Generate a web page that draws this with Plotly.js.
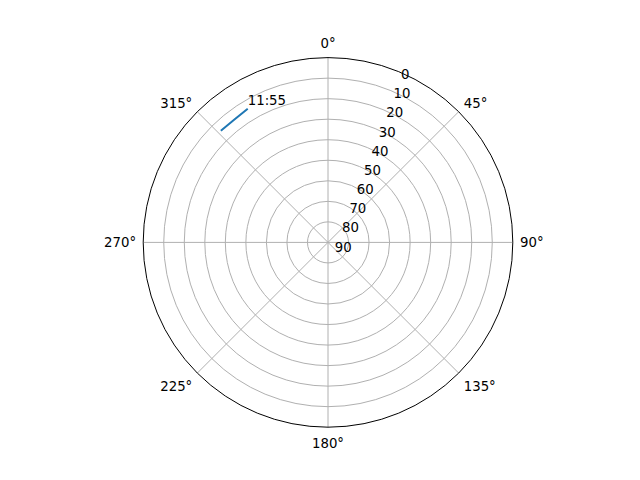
<!DOCTYPE html>
<html>
<head>
<meta charset="utf-8">
<script src="https://cdn.plot.ly/plotly-3.0.1.min.js"></script>
<style>
  html, body { margin: 0; padding: 0; background: #ffffff; }
  #chart { width: 640px; height: 480px; }
</style>
</head>
<body>
<div id="chart"></div>
<script>
// sun track: azimuth (deg, clockwise from north) and elevation (deg)
const azimuthDeg = [316.2, 322.7, 329.0];
const elevationDeg = [14.6, 14.8, 14.1];
const endLabel = "11:55";

const radialTicks = [0, 10, 20, 30, 40, 50, 60, 70, 80, 90];
const angularTicks = [0, 45, 90, 135, 180, 225, 270, 315];

const lastIndex = azimuthDeg.length - 1;

const traces = [
    {
        type: "scatterpolar",
        mode: "lines",
        theta: azimuthDeg,
        r: elevationDeg,
        line: { color: "#1f77b4", width: 2 },
        hoverinfo: "skip",
    },
    {
        type: "scatterpolar",
        mode: "text",
        theta: [azimuthDeg[lastIndex]],
        r: [elevationDeg[lastIndex]],
        text: [endLabel],
        textposition: "top right",
        textfont: { size: 13.3, color: "#000000" },
        hoverinfo: "skip",
    },
];

const layout = {
    width: 640,
    height: 480,
    margin: { t: 0, r: 0, b: 0, l: 0 },
    paper_bgcolor: "#ffffff",
    showlegend: false,
    font: { family: "DejaVu Sans, sans-serif", color: "#000000", size: 13.3 },
    polar: {
        domain: { x: [0.125, 0.9], y: [0.11, 0.88] },
        bgcolor: "#ffffff",
        radialaxis: {
            range: [90, 0],
            tickvals: radialTicks,
            ticktext: radialTicks.map(String),
            angle: 69,
            tickangle: 69,
            showline: false,
            ticks: "",
            gridcolor: "#b0b0b0",
            gridwidth: 1,
            tickfont: { size: 13.3, color: "#000000" },
        },
        angularaxis: {
            rotation: 90,
            direction: "clockwise",
            tickvals: angularTicks,
            ticktext: angularTicks.map((v) => v + "°"),
            ticks: "outside",
            ticklen: 4,
            tickcolor: "rgba(0,0,0,0)",
            showline: true,
            linecolor: "#000000",
            linewidth: 1,
            gridcolor: "#b0b0b0",
            gridwidth: 1,
            tickfont: { size: 13.3, color: "#000000" },
        },
    },
};

Plotly.newPlot("chart", traces, layout, { displayModeBar: false, staticPlot: true });
</script>
</body>
</html>
